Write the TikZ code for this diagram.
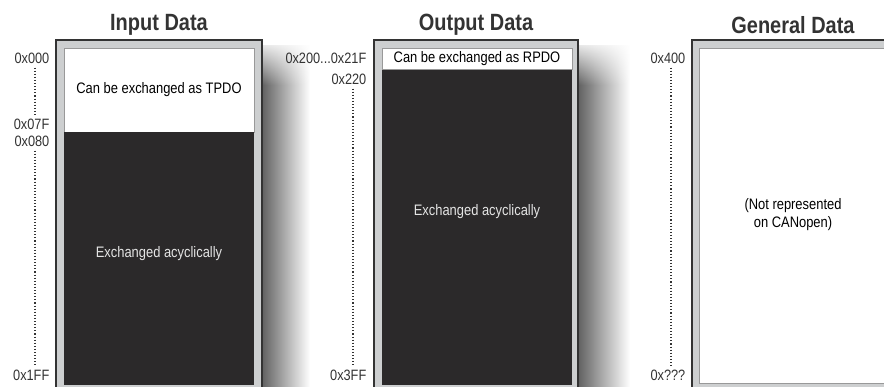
\documentclass[tikz,border=0pt]{standalone}
\usepackage{fontspec}
\setmainfont{Liberation Sans}[FakeStretch=0.85]
\usetikzlibrary{fadings}
\definecolor{ink}{HTML}{333333}
\definecolor{slab}{HTML}{2B292A}
\definecolor{rim}{HTML}{CDCFD0}
\definecolor{pale}{HTML}{E4E4E4}
\tikzset{
  heading/.style={font=\fontsize{23.5}{26}\selectfont\bfseries, text=ink},
  addr/.style={font=\fontsize{15}{17}\selectfont, text=ink, anchor=east, inner xsep=0.5pt, inner ysep=4pt},
  celltext/.style={font=\fontsize{15.2}{18}\selectfont, align=center},
  span/.style={draw=ink, line width=1.1pt, dash pattern=on 1.1pt off 2pt},
  frame/.style={fill=rim, draw=ink, line width=1.6pt},
  cellline/.style={draw=gray!80, line width=0.6pt},
}
\begin{document}
\begin{tikzpicture}[x=1pt, y=-1pt]
	%%%%% BACKGROUND %%%%%
	\clip (0,0) rectangle (884,387);
	\fill[white] (0,0) rectangle (884,387);
	
	%%%%% SHADOWS %%%%%
	\shade[left color=black!62, right color=white] (262,46) rectangle (310,400);
	\fill[white, path fading=south] (262,38) rectangle (310,85);
	\shade[left color=black!62, right color=white] (578,46) rectangle (630,400);
	\fill[white, path fading=south] (578,38) rectangle (630,85);
	
	%%%%% INPUT DATA %%%%%
	\draw[frame] (56,40) rectangle (262,400);
	\draw[cellline, fill=white] (64,48) rectangle (254,132);
	\fill[slab] (64,132) rectangle (254,385);
	\node[heading] (intitle) at (159,25) {Input Data};
	\node[celltext] (tpdo) at (159,90) {Can be exchanged as TPDO};
	\node[celltext, text=pale] (inacyc) at (159,254) {Exchanged acyclically};
	
	\node[addr] (a000) at (50,58) {0x000};
	\node[addr] (a07F) at (50,124) {0x07F};
	\node[addr] (a080) at (50,141) {0x080};
	\node[addr] (a1FF) at (50,375) {0x1FF};
	\coordinate (inrail) at (35,0);
	\draw[span] (inrail |- a000.south) -- (inrail |- a07F.north);
	\draw[span] (inrail |- a080.south) -- (inrail |- a1FF.north);
	
	%%%%% OUTPUT DATA %%%%%
	\draw[frame] (374,40) rectangle (578,400);
	\fill[slab] (382,69) rectangle (572,385);
	\draw[cellline, fill=white] (382,48) rectangle (572,69);
	\node[heading] (outtitle) at (476,25) {Output Data};
	\node[celltext, inner sep=0pt] (rpdo) at (477,58.5) {Can be exchanged as RPDO};
	\node[celltext, text=pale] (outacyc) at (477,212) {Exchanged acyclically};
	
	\node[addr] (a200) at (367,58) {0x200...0x21F};
	\node[addr] (a220) at (367,79) {0x220};
	\node[addr] (a3FF) at (367,375) {0x3FF};
	\coordinate (outrail) at (353,0);
	\draw[span] (outrail |- a220.south) -- (outrail |- a3FF.north);
	
	%%%%% GENERAL DATA %%%%%
	\draw[frame] (692,40) rectangle (900,400);
	\draw[cellline, fill=white] (699,48) rectangle (887,383);
	\node[heading] (gentitle) at (793,25) {General Data};
	\node[celltext] (notrep) at (793,215) {(Not represented\\on CANopen)};
	
	\node[addr] (a400) at (686,58) {0x400};
	\node[addr] (aend) at (686,375) {0x???};
	\coordinate (genrail) at (671,0);
	\draw[span] (genrail |- a400.south) -- (genrail |- aend.north);
\end{tikzpicture}
\end{document}
